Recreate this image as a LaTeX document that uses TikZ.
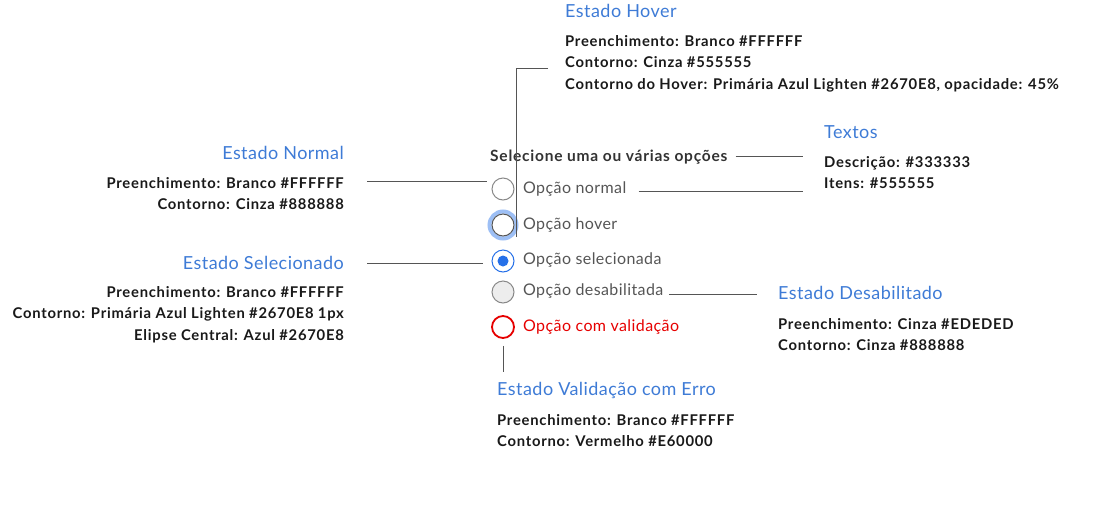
\documentclass[tikz,border=0pt]{standalone}
\usepackage{fontspec}
\setmainfont{Lato}
\definecolor{titulo}{HTML}{3E7BD6}
\definecolor{texto}{HTML}{333333}
\definecolor{itens}{HTML}{555555}
\definecolor{cinza}{HTML}{888888}
\definecolor{primaria}{HTML}{2670E8}
\definecolor{erro}{HTML}{E60000}
\definecolor{desab}{HTML}{EDEDED}
\tikzset{
  titulo/.style={font=\fontsize{18}{20}\selectfont\addfontfeatures{LetterSpace=2.5}, text=titulo, inner sep=0pt},
  info/.style={font=\bfseries\fontsize{14.8}{21.5}\selectfont\addfontfeatures{LetterSpace=5}, text=black!90, inner sep=0pt},
  opcao/.style={font=\fontsize{16}{18}\selectfont\addfontfeatures{LetterSpace=2.5}, text=itens, anchor=west, inner sep=0pt},
  radio/.style={circle, draw=cinza, fill=white, minimum size=22pt, inner sep=0pt, line width=1pt},
  guia/.style={draw=itens, line width=.8pt},
}
\begin{document}
\begin{tikzpicture}[x=1pt,y=-1pt]
  \useasboundingbox (0,0) rectangle (1094,512);
  % radios e textos das opcoes
  \node[font=\bfseries\fontsize{15.5}{18}\selectfont\addfontfeatures{LetterSpace=5}, text=texto, anchor=west, inner sep=0pt] (tSelecione) at (490,157) {Selecione uma ou várias opções};
  \draw[primaria, opacity=.45, line width=4pt] (503,225) circle (13.5);
  \node[radio] (rNormal) at (503,189) {};
  \node[radio, draw=itens] (rHover) at (503,225) {};
  \node[radio, draw=primaria] (rSel) at (503,261) {};
  \fill[primaria] (rSel) circle (5.5);
  \node[radio, fill=desab] (rDesab) at (503,292) {};
  \node[radio, draw=erro, line width=1.8pt] (rErro) at (503,327) {};
  \node[opcao] (oNormal) at (523,189) {Opção normal};
  \node[opcao] (oHover) at (523,225) {Opção hover};
  \node[opcao] (oSel) at (523,260) {Opção selecionada};
  \node[opcao] (oDesab) at (523,291) {Opção desabilitada};
  \node[opcao, text=erro] (oErro) at (523,327) {Opção com validação};
  % anotacoes
  \node[titulo, anchor=west] (tHover) at (565,11) {Estado Hover};
  \node[info, anchor=north west, align=left] (dHover) at (565,35) {Preenchimento: Branco \#FFFFFF\\Contorno: Cinza \#555555\\Contorno do Hover: Primária Azul Lighten \#2670E8, opacidade: 45\%};
  \node[titulo, anchor=west] (tTextos) at (824,132) {Textos};
  \node[info, anchor=north west, align=left] (dTextos) at (824,156) {Descrição: \#333333\\Itens: \#555555};
  \node[titulo, anchor=east] (tNormal) at (344,153) {Estado Normal};
  \node[info, anchor=north east, align=right] (dNormal) at (344,177) {Preenchimento: Branco \#FFFFFF\\Contorno: Cinza \#888888};
  \node[titulo, anchor=east] (tSel) at (344,263) {Estado Selecionado};
  \node[info, anchor=north east, align=right] (dSel) at (344,286) {Preenchimento: Branco \#FFFFFF\\Contorno: Primária Azul Lighten \#2670E8 1px\\Elipse Central: Azul \#2670E8};
  \node[titulo, anchor=west] (tDesab) at (778,293) {Estado Desabilitado};
  \node[info, anchor=north west, align=left] (dDesab) at (778,318) {Preenchimento: Cinza \#EDEDED\\Contorno: Cinza \#888888};
  \node[titulo, anchor=west] (tErro) at (497,390) {Estado Validação com Erro};
  \node[info, anchor=north west, align=left] (dErro) at (497,414) {Preenchimento: Branco \#FFFFFF\\Contorno: Vermelho \#E60000};
  % linhas guia
  \draw[guia] ([xshift=-17pt,yshift=-57pt]tHover.west) -| ([xshift=13pt,yshift=-12pt]rHover.center);
  \draw[guia] ([xshift=-5pt,yshift=8pt]rNormal.west) -- ++(-120,0);
  \draw[guia] ([xshift=-9pt,yshift=-2pt]rSel.west) -- ++(-116,0);
  \draw[guia] ([xshift=8pt,yshift=1pt]tSelecione.east) -- ([xshift=-21pt,yshift=1pt]tSelecione.east -| tTextos.west);
  \draw[guia] ([xshift=12pt,yshift=-2pt]oNormal.east) -- ([xshift=-21pt,yshift=-2pt]oNormal.east -| tTextos.west);
  \draw[guia] ([xshift=6pt,yshift=-3pt]oDesab.east) -- ([xshift=-21pt,yshift=-3pt]oDesab.east -| tDesab.west);
  \draw[guia] ([yshift=-7pt]rErro.south) -- ++(0,26);
\end{tikzpicture}
\end{document}
